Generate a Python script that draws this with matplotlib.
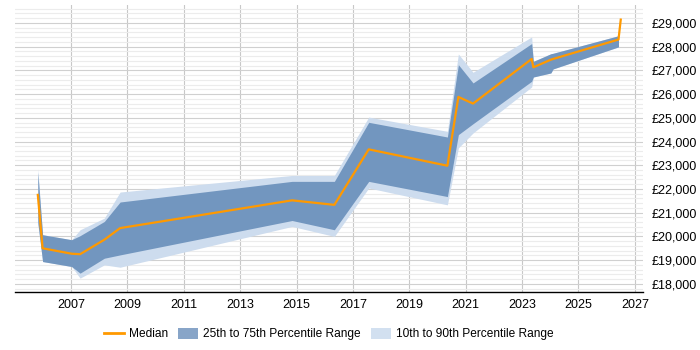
import matplotlib
matplotlib.use("Agg")
import matplotlib.pyplot as plt
from matplotlib.patches import Patch
from matplotlib.lines import Line2D
from matplotlib.ticker import FuncFormatter, MultipleLocator

plt.rcParams["font.family"] = ["Liberation Sans", "DejaVu Sans"]

# decimal years
years = [2005.82, 2005.99, 2007.02, 2007.32, 2008.18, 2008.74, 2014.84, 2016.34,
         2017.56, 2020.35, 2020.74, 2021.26, 2023.34, 2023.40, 2024.02, 2024.10, 2026.42]
median = [21750, 19500, 19270, 19250, 19860, 20350, 21520, 21330,
          23670, 22980, 25880, 25600, 27480, 27130, 27450, 27480, 28300]
p25 = [20600, 18940, 18730, 18450, 19080, 19220, 20670, 20280,
       22320, 21680, 24290, 24750, 26540, 26720, 26890, 27060, 27990]
p75 = [22700, 20070, 19860, 20030, 20630, 21450, 22320, 22320,
       24810, 24190, 27240, 26470, 28130, 27380, 27700, 27720, 28460]
p10 = [20500, 18940, 18730, 18240, 18800, 18700, 20420, 20000,
       22040, 21330, 23730, 24360, 26300, 26720, 26890, 27060, 27990]
p90 = [22850, 20070, 19860, 20280, 20770, 21870, 22570, 22570,
       25030, 24430, 27690, 26920, 28410, 27380, 27700, 27720, 28460]

# last median point goes beyond the bands
median_x = years + [2026.50]
median_y = median + [29140]

fig = plt.figure(figsize=(7, 3.5), dpi=100)
ax = fig.add_axes([0.021, 0.166, 0.898, 0.82])

light = "#cddcee"
dark = "#7296bf"
orange = "#ff9900"

ax.fill_between(years, p10, p90, color=light, lw=0, zorder=2)
ax.fill_between(years, p25, p75, color=dark, lw=0, zorder=3)
ax.plot(median_x, median_y, color=orange, lw=1.6, zorder=4)

ax.set_xlim(2005.0, 2027.3)
ax.set_ylim(17660, 29760)

ax.set_xticks(range(2007, 2028, 2))
ax.yaxis.set_major_locator(MultipleLocator(1000))
ax.yaxis.set_minor_locator(MultipleLocator(200))
ax.yaxis.set_major_formatter(FuncFormatter(lambda v, p: f"£{int(v):,}"))

ax.grid(axis="x", which="major", color="#c8c8c8", lw=0.8, zorder=0)
ax.grid(axis="y", which="major", color="#d0d0d0", lw=0.8, zorder=0)
ax.grid(axis="y", which="minor", color="#ececec", lw=0.8, zorder=0)

ax.yaxis.tick_right()
ax.tick_params(axis="y", which="both", length=0, labelsize=9, pad=6)
ax.tick_params(axis="x", length=0, labelsize=9, pad=5)

for s in ["top", "left", "right"]:
    ax.spines[s].set_visible(False)
ax.spines["bottom"].set_color("black")
ax.spines["bottom"].set_linewidth(1)

handles = [
    Line2D([], [], color=orange, lw=2),
    Patch(facecolor="#88a5c8", edgecolor="none"),
    Patch(facecolor="#d2e0f0", edgecolor="none"),
]
labels = ["Median", "25th to 75th Percentile Range", "10th to 90th Percentile Range"]
fig.legend(handles, labels, loc="center", bbox_to_anchor=(0.47, 0.045), ncol=3,
           frameon=False, fontsize=8.6, handlelength=1.68, handleheight=1.0,
           handletextpad=0.42, columnspacing=0.84)

fig.savefig("out.png", dpi=100)
